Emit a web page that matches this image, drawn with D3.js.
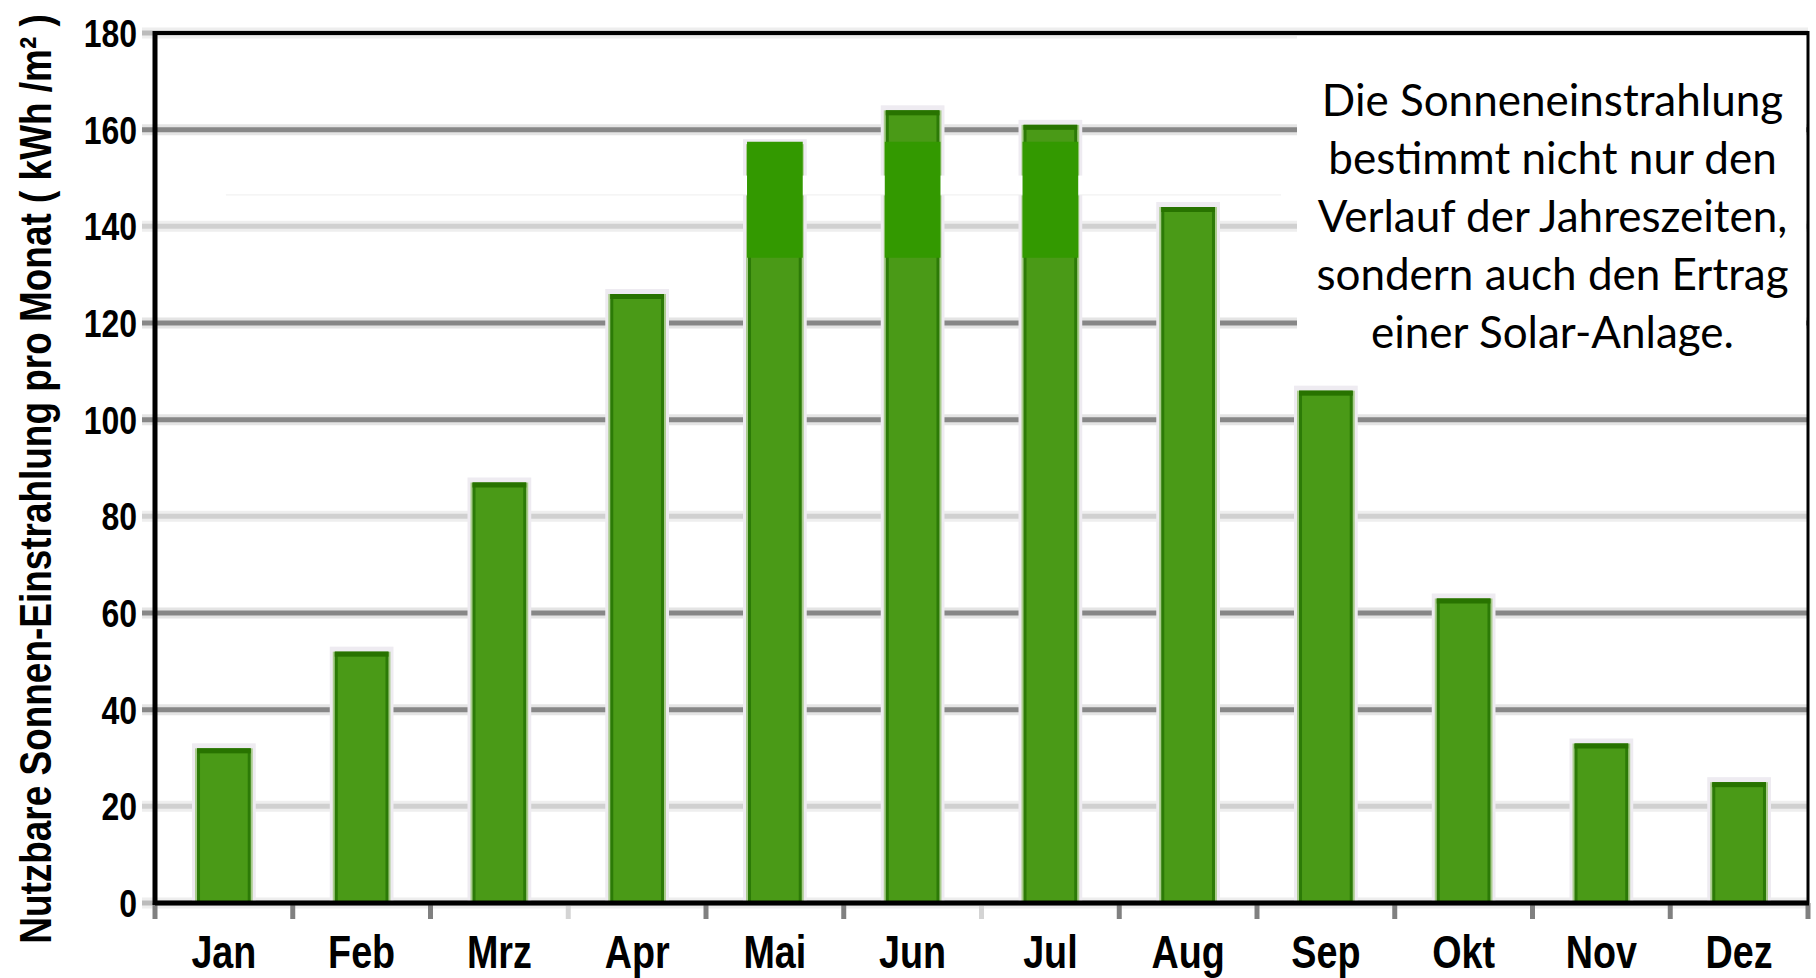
<!doctype html>
<html lang="de">
  <head>
    <meta charset="UTF-8" />
    <title>Nutzbare Sonnen-Einstrahlung pro Monat</title>
    <script src="https://unpkg.com/d3@7.9.0/dist/d3.min.js"></script>
    <style>
      body {
        margin: 0;
        background: #fff;
      }
      svg {
        display: block;
      }
      .tick-label,
      .month-label,
      .y-title {
        font-family: 'Liberation Sans', Arial, sans-serif;
        font-weight: bold;
        fill: #000;
      }
      .note {
        font-family: Lato, 'Open Sans', sans-serif;
        fill: #000;
      }
    </style>
  </head>
  <body>
    <div id="chart"></div>

    <script>
      // months and monthly usable irradiation (kWh/m²)
      const months = ['Jan', 'Feb', 'Mrz', 'Apr', 'Mai', 'Jun', 'Jul', 'Aug', 'Sep', 'Okt', 'Nov', 'Dez'];
      const values = [32, 52, 87, 126, 157, 164, 161, 144, 106, 63, 33, 25];

      const yTicks = [0, 20, 40, 60, 80, 100, 120, 140, 160, 180];
      // gridlines drawn darker in the original
      const darkGrid = [40, 60, 100, 120, 160];
      const lightGrid = [20, 80, 140];

      // bright green patches pasted over the summer bars
      const highlightMonths = ['Mai', 'Jun', 'Jul'];
      const highlightRange = [133.5, 157.5];

      const noteLines = [
        'Die Sonneneinstrahlung',
        'bestimmt nicht nur den',
        'Verlauf der Jahreszeiten,',
        'sondern auch den Ertrag',
        'einer Solar-Anlage.',
      ];
      const yTitle = 'Nutzbare Sonnen-Einstrahlung pro Monat  ( kWh /m² )';

      const W = 1816;
      const H = 978;
      const margin = { top: 33, right: 8, bottom: 75, left: 155 };
      const width = W - margin.left - margin.right;
      const height = H - margin.top - margin.bottom;
      const narrow = 0.82; // Arial Narrow look from Liberation Sans

      const svg = d3
        .select('#chart')
        .append('svg')
        .attr('width', W)
        .attr('height', H);

      const g = svg
        .append('g')
        .attr('transform', `translate(${margin.left},${margin.top})`);

      const x = d3
        .scaleBand()
        .domain(months)
        .range([0, width])
        .paddingInner(0.61)
        .paddingOuter(0.305);

      const y = d3.scaleLinear().domain([0, 180]).range([height, 0]);

      const step = x.step();
      const bw = x.bandwidth();

      // gridlines, each with a soft halo
      function grid(vals, halo, core) {
        const gg = g.append('g');
        gg.selectAll('.halo')
          .data(vals)
          .enter()
          .append('line')
          .attr('x1', -13)
          .attr('x2', width)
          .attr('y1', (d) => y(d))
          .attr('y2', (d) => y(d))
          .attr('stroke', halo)
          .attr('stroke-width', 11);
        gg.selectAll('.core')
          .data(vals)
          .enter()
          .append('line')
          .attr('x1', -13)
          .attr('x2', width)
          .attr('y1', (d) => y(d))
          .attr('y2', (d) => y(d))
          .attr('stroke', core)
          .attr('stroke-width', 5);
      }
      grid(lightGrid, '#eeeeee', '#d0d0d0');
      grid(darkGrid, '#e4e4e4', '#878787');
      // stubs at 0 and 180
      grid([0, 180], '#eeeeee', '#bbbbbb');

      // x ticks between months
      const tickX = months.map((m) => x(m) - (step - bw) / 2).concat([width]);
      g.append('g')
        .selectAll('line')
        .data(tickX)
        .enter()
        .append('line')
        .attr('x1', (d) => d)
        .attr('x2', (d) => d)
        .attr('y1', height)
        .attr('y2', height + 16)
        .attr('stroke', (d, i) => (i === 3 || i === 6 ? '#d4d4d4' : '#808080'))
        .attr('stroke-width', 5);

      const data = months.map((m, i) => ({ month: m, value: values[i] }));

      // bars: halo, body, dark edges, dark top strip
      const bars = g.append('g');
      bars
        .selectAll('.bar-halo')
        .data(data)
        .enter()
        .append('rect')
        .attr('x', (d) => x(d.month) - 5)
        .attr('y', (d) => y(d.value) - 5)
        .attr('width', bw + 10)
        .attr('height', (d) => height - y(d.value) + 5)
        .attr('fill', '#eeebf1');
      bars
        .selectAll('.bar-glow')
        .data(data)
        .enter()
        .append('rect')
        .attr('x', (d) => x(d.month) - 2)
        .attr('y', (d) => y(d.value))
        .attr('width', bw + 4)
        .attr('height', (d) => height - y(d.value))
        .attr('fill', '#a9cc8c');
      bars
        .selectAll('.bar')
        .data(data)
        .enter()
        .append('rect')
        .attr('x', (d) => x(d.month) + 1.5)
        .attr('y', (d) => y(d.value) + 1.5)
        .attr('width', bw - 3)
        .attr('height', (d) => height - y(d.value) - 1.5)
        .attr('fill', '#4a9a17')
        .attr('stroke', '#2c7a07')
        .attr('stroke-width', 3);
      bars
        .selectAll('.bar-top')
        .data(data)
        .enter()
        .append('rect')
        .attr('x', (d) => x(d.month))
        .attr('y', (d) => y(d.value))
        .attr('width', bw)
        .attr('height', 5)
        .attr('fill', '#287300');

      // white strip left over from the original editing
      g.append('rect')
        .attr('x', x('Jan') + bw / 2 + 2)
        .attr('y', y(150.5))
        .attr('width', x('Sep') - x('Jan') - bw / 2 - 20)
        .attr('height', y(146.5) - y(150.5))
        .attr('fill', '#fff');
      g.append('line')
        .attr('x1', x('Jan') + bw / 2 + 2)
        .attr('x2', x('Sep') - 18)
        .attr('y1', y(146.5))
        .attr('y2', y(146.5))
        .attr('stroke', '#eeeeee')
        .attr('stroke-width', 1);

      g.append('g')
        .selectAll('rect')
        .data(highlightMonths)
        .enter()
        .append('rect')
        .attr('x', (d) => x(d) - 1)
        .attr('y', y(highlightRange[1]))
        .attr('width', bw + 2)
        .attr('height', y(highlightRange[0]) - y(highlightRange[1]))
        .attr('fill', '#339900');

      // text box
      const boxX = x('Sep') - 2;
      g.append('rect')
        .attr('x', boxX)
        .attr('y', 3)
        .attr('width', width - boxX - 2)
        .attr('height', y(112) - 3)
        .attr('fill', '#fff');

      const note = g
        .append('text')
        .attr('class', 'note')
        .attr('text-anchor', 'middle')
        .style('font-size', '44px');
      note
        .selectAll('tspan')
        .data(noteLines)
        .enter()
        .append('tspan')
        .attr('x', (boxX + width) / 2)
        .attr('y', (d, i) => 83 + i * 58)
        .text((d) => d);

      // frame: left / bottom axis and top / right border
      g.append('line')
        .attr('x1', 0).attr('x2', width)
        .attr('y1', 0).attr('y2', 0)
        .attr('stroke', '#000').attr('stroke-width', 4);
      g.append('line')
        .attr('x1', width).attr('x2', width)
        .attr('y1', -2).attr('y2', height)
        .attr('stroke', '#000').attr('stroke-width', 3);
      g.append('line')
        .attr('x1', 0).attr('x2', width + 1)
        .attr('y1', height).attr('y2', height)
        .attr('stroke', '#000').attr('stroke-width', 5);
      g.append('line')
        .attr('x1', 0).attr('x2', 0)
        .attr('y1', -2).attr('y2', height + 2)
        .attr('stroke', '#000').attr('stroke-width', 5);

      // y tick labels
      g.append('g')
        .selectAll('text')
        .data(yTicks)
        .enter()
        .append('text')
        .attr('class', 'tick-label')
        .attr('transform', (d) => `translate(-18,${y(d)}) scale(${narrow},1)`)
        .attr('dy', '0.36em')
        .attr('text-anchor', 'end')
        .style('font-size', '39px')
        .text((d) => d);

      // month labels
      g.append('g')
        .selectAll('text')
        .data(months)
        .enter()
        .append('text')
        .attr('class', 'month-label')
        .attr('transform', (d) => `translate(${x(d) + bw / 2},${height + 65}) scale(${narrow},1)`)
        .attr('text-anchor', 'middle')
        .style('font-size', '46px')
        .text((d) => d);

      // y axis title, squeezed to the length it has in the original
      const title = svg
        .append('text')
        .attr('class', 'y-title')
        .attr('text-anchor', 'middle')
        .style('font-size', '45px')
        .text(yTitle);
      const natural = title.node().getComputedTextLength();
      title.attr('transform', `translate(51,479) rotate(-90) scale(${930 / natural},1)`);
    </script>
  </body>
</html>
